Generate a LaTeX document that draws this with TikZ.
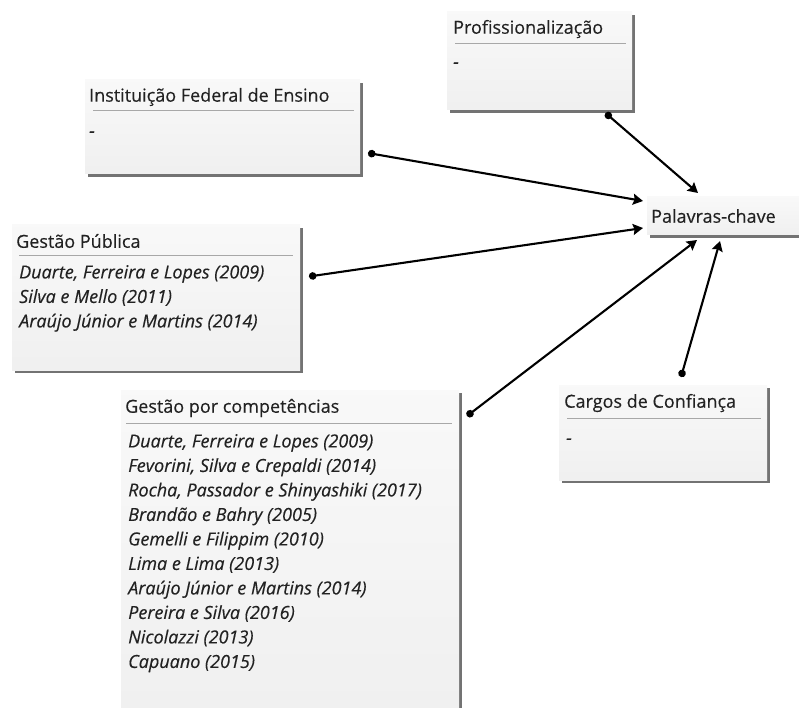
\documentclass[tikz,border=0pt]{standalone}
\usepackage{fontspec}
\setmainfont{Open Sans}
\newfontfamily\caixafonte{Open Sans}[UprightFeatures={FakeBold=0.3}, ItalicFeatures={FakeBold=0.3}]
\usepackage{xcolor}
\usetikzlibrary{arrows.meta,shadows,positioning}
\tikzset{>={Stealth[length=10pt,width=11pt,inset=1.5pt]}}
\definecolor{textocinza}{HTML}{222222}
\definecolor{regracinza}{HTML}{A8A8A8}

\begin{document}
\begin{tikzpicture}[x=1pt, y=-1pt,
                    caixa/.style={rectangle, inner sep=0pt, outer sep=0pt,
                                  top color=gray!5, bottom color=gray!12,
                                  drop shadow={shadow xshift=3pt, shadow yshift=-3pt,
                                               fill=black, opacity=0.55}},
                    titulo/.style={inner sep=0pt, anchor=west, text=textocinza,
                                   font=\caixafonte\fontsize{18}{21}\selectfont},
                    refs/.style={inner sep=0pt, anchor=north west, align=left, text=textocinza,
                                 font=\caixafonte\fontsize{18}{24.5}\selectfont\itshape},
                    regra/.style={regracinza, line width=1pt},
                    conector/.style={line width=2.1pt, black, {Circle[length=7.5pt]}->},
                   ]

\useasboundingbox (0,0) rectangle (799,708);
\clip (0,0) rectangle (799,708);

% caixas
\node[caixa, minimum width=185pt, minimum height=98pt, anchor=north west] (prof) at (447,12) {};
\node[caixa, minimum width=275pt, minimum height=94pt, anchor=north west] (ife) at (85,80) {};
\node[caixa, minimum width=288pt, minimum height=145pt, anchor=north west] (gp) at (12,225) {};
\node[caixa, minimum width=338pt, minimum height=330pt, anchor=north west] (gpc) at (121,390) {};
\node[caixa, minimum width=208pt, minimum height=95pt, anchor=north west] (cc) at (559,385) {};
\node[caixa, minimum width=160pt, minimum height=38pt, anchor=north west] (pc) at (647,197) {};

% titulos
\node[titulo] (proftit) at ([shift={(6,17)}]prof.north west) {Profissionalização};
\node[titulo] (ifetit) at ([shift={(4,17)}]ife.north west) {Instituição Federal de Ensino};
\node[titulo] (gptit) at ([shift={(4,16)}]gp.north west) {Gestão Pública};
\node[titulo] (gpctit) at ([shift={(4,18)}]gpc.north west) {Gestão por competências};
\node[titulo] (cctit) at ([shift={(5,18)}]cc.north west) {Cargos de Confiança};
\node[titulo] (pctit) at ([shift={(4,19)}]pc.north west) {Palavras-chave};

% linhas sob os titulos
\draw[regra] ([shift={(8,32)}]prof.north west) -- ([shift={(-6,32)}]prof.north east);
\draw[regra] ([shift={(8,31)}]ife.north west) -- ([shift={(-6,31)}]ife.north east);
\draw[regra] ([shift={(7,31)}]gp.north west) -- ([shift={(-7,31)}]gp.north east);
\draw[regra] ([shift={(5,33)}]gpc.north west) -- ([shift={(-7,33)}]gpc.north east);
\draw[regra] ([shift={(8,33)}]cc.north west) -- ([shift={(-6,33)}]cc.north east);

% conteudo
\node[refs, anchor=base west] (profref) at ([shift={(6,56)}]prof.north west) {-};
\node[refs, anchor=base west] (iferef) at ([shift={(4,57)}]ife.north west) {-};
\node[refs, anchor=base west] (ccref) at ([shift={(7,59)}]cc.north west) {-};
\node[refs] (gpref) at ([shift={(7,40)}]gp.north west) {Duarte, Ferreira e Lopes (2009)\\
  Silva e Mello (2011)\\
  Araújo Júnior e Martins (2014)};
\node[refs] (gpcref) at ([shift={(7,44)}]gpc.north west) {Duarte, Ferreira e Lopes (2009)\\
  Fevorini, Silva e Crepaldi (2014)\\
  Rocha, Passador e Shinyashiki (2017)\\
  Brandão e Bahry (2005)\\
  Gemelli e Filippim (2010)\\
  Lima e Lima (2013)\\
  Araújo Júnior e Martins (2014)\\
  Pereira e Silva (2016)\\
  Nicolazzi (2013)\\
  Capuano (2015)};

% ligacoes
\draw[conector] ([shift={(66,3)}]prof.south) -- ([shift={(-29,-4)}]pc.north);
\draw[conector] ([shift={(8,26)}]ife.east) -- ([shift={(-4,-15)}]pc.west);
\draw[conector] ([shift={(9,-21)}]gp.east) -- ([shift={(-4,12)}]pc.west);
\draw[conector] ([shift={(8,26)}]gpc.north east) -- ([shift={(-30,5)}]pc.south);
\draw[conector] ([shift={(18,-8)}]cc.north) -- ([shift={(-7,6)}]pc.south);

\end{tikzpicture}
\end{document}
